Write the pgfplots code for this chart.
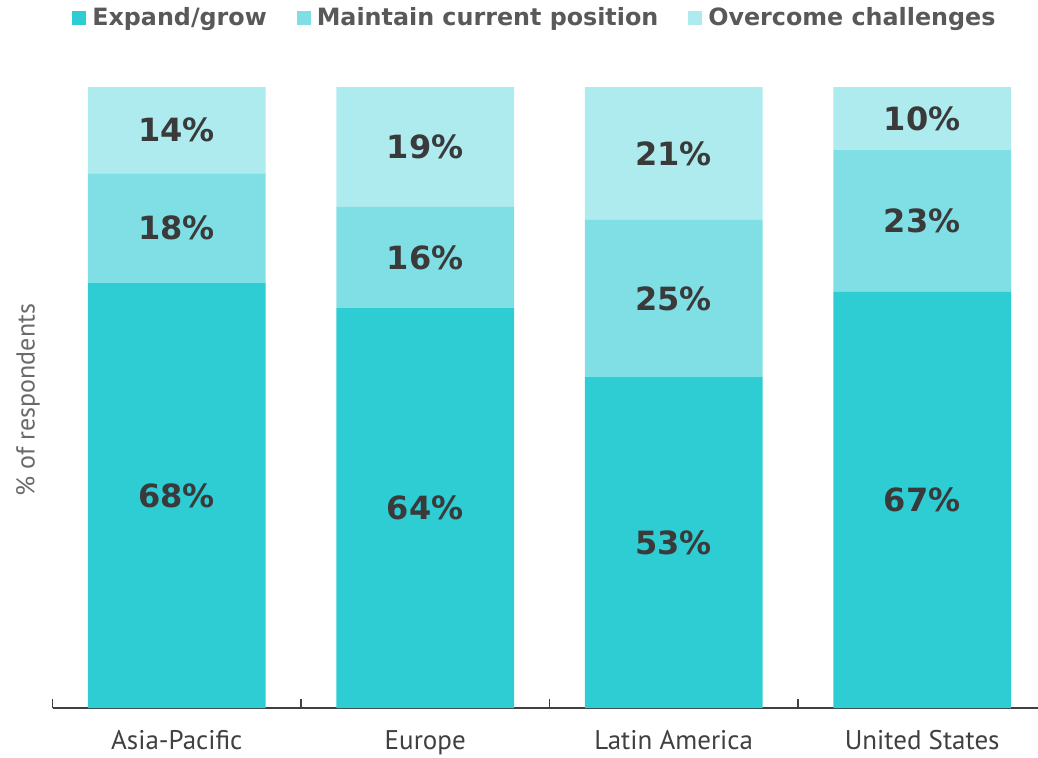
\documentclass[border=0pt]{standalone}
\usepackage{pgfplots}
\pgfplotsset{compat=1.18}
\usepackage{fontspec}
\setmainfont{Open Sans}
\newfontfamily\tickfont{PT Sans}
\newfontfamily\labfont{DejaVu Sans}
\definecolor{cA}{HTML}{2ECCD3}
\definecolor{cB}{HTML}{80DFE5}
\definecolor{cC}{HTML}{AEEBEE}
\definecolor{cLeg}{HTML}{595959}
\definecolor{cLab}{HTML}{3A3A3A}
\definecolor{cTick}{HTML}{404040}
\definecolor{cY}{HTML}{6A6A6A}
\begin{document}
\begin{tikzpicture}
\useasboundingbox (0,0) rectangle (519pt,378.5pt);
\begin{axis}[
  at={(26.25pt,24.5pt)}, anchor=south west,
  scale only axis, width=492.75pt, height=310.5pt,
  xmin=-0.5, xmax=3.466, ymin=0, ymax=100,
  ybar stacked, bar width=0.716,
  axis x line=bottom, axis y line=none,
  x axis line style={-, line width=1pt, color=cTick},
  xtick={0,1,2,3},
  xticklabels={Asia-Pacific, Europe, Latin America, United States},
  minor xtick={-0.5,0.5,1.5,2.5},
  major tick length=0pt, minor tick length=4.5pt, tick align=inside,
  minor tick style={line width=0.8pt, color=cTick},
  ytick=\empty,
  xticklabel style={font=\tickfont\fontsize{13.5}{16}\selectfont, text=cTick, anchor=base, yshift=-20.5pt},
  clip=false,
  legend columns=3,
  legend image code/.code={\fill[#1] (0pt,-3.5pt) rectangle (7pt,3.5pt); \path (0pt,0pt) -- (8pt,0pt);},
  legend style={draw=none, fill=none, at={(0.4905,1.111)}, anchor=center,
    font=\labfont\bfseries\fontsize{11.9}{15}\selectfont, text=cLeg,
    /tikz/every even column/.append style={column sep=13pt},
    inner sep=0pt},
  legend cell align=left,
]
\addplot[fill=cA, draw=none] coordinates {(0,68.4) (1,64.4) (2,53.3) (3,67.0)};
\addlegendentry{Expand/grow}
\addplot[fill=cB, draw=none] coordinates {(0,17.7) (1,16.3) (2,25.3) (3,22.9)};
\addlegendentry{Maintain current position}
\addplot[fill=cC, draw=none] coordinates {(0,13.9) (1,19.3) (2,21.4) (3,10.1)};
\addlegendentry{Overcome challenges}
\node[rotate=90, font=\tickfont\fontsize{13}{16}\selectfont, text=cY] at (axis description cs:-0.0250,0.496) {\% of respondents};
\end{axis}
\begin{axis}[
  at={(26.25pt,24.5pt)}, anchor=south west,
  scale only axis, width=492.75pt, height=310.5pt,
  xmin=-0.5, xmax=3.466, ymin=0, ymax=100,
  hide axis, clip=false,
]
\addplot[draw=none, mark=none, nodes near coords, point meta=explicit symbolic,
  nodes near coords style={anchor=center, font=\labfont\bfseries\fontsize{16}{19}\selectfont, text=cLab}]
  coordinates {
  (0,34.2) [68\%] (0,77.25) [18\%] (0,93.05) [14\%]
  (1,32.2) [64\%] (1,72.55) [16\%] (1,90.35) [19\%]
  (2,26.65) [53\%] (2,65.95) [25\%] (2,89.3) [21\%]
  (3,33.5) [67\%] (3,78.45) [23\%] (3,94.95) [10\%]
  };
\end{axis}
\end{tikzpicture}
\end{document}
